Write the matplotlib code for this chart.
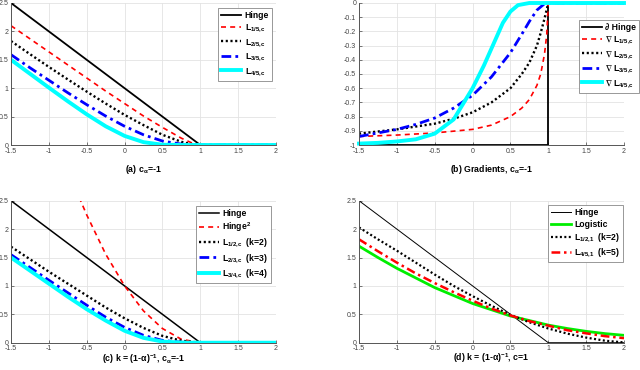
import matplotlib
matplotlib.use("Agg")
import matplotlib.pyplot as plt

plt.rcParams['font.family'] = ['Liberation Sans', 'DejaVu Sans']
plt.rcParams['font.weight'] = 'bold'
plt.rcParams['mathtext.fontset'] = 'custom'
plt.rcParams['mathtext.rm'] = 'Liberation Sans:bold'
plt.rcParams['mathtext.it'] = 'Liberation Sans:bold'
plt.rcParams['mathtext.bf'] = 'Liberation Sans:bold'
plt.rcParams['mathtext.sf'] = 'Liberation Sans:bold'
plt.rcParams['mathtext.default'] = 'rm'
plt.rcParams['mathtext.fallback'] = 'stixsans'

# shared x ticks
x_ticks = [-1.5, -1, -0.5, 0, 0.5, 1, 1.5, 2]
x_tick_labels = ['-1.5', '-1', '-0.5', '0', '0.5', '1', '1.5', '2']
y_ticks = [0, 0.5, 1, 1.5, 2, 2.5]
y_tick_labels = ['0', '0.5', '1', '1.5', '2', '2.5']
yb_ticks = [-1, -0.9, -0.8, -0.7, -0.6, -0.5, -0.4, -0.3, -0.2, -0.1, 0]
yb_tick_labels = ['-1', '-0.9', '-0.8', '-0.7', '-0.6', '-0.5', '-0.4', '-0.3', '-0.2', '-0.1', '0']

# (a) losses, c_alpha = -1
hinge_x = [-1.5, 1, 2]
hinge_y = [2.5, 0, 0]
xa = [-1.5, -1.25, -1, -0.75, -0.5, -0.25, 0, 0.25, 0.5, 0.75, 0.9, 1, 2]
a_l15 = [2.10, 1.87, 1.64, 1.41, 1.18, 0.95, 0.73, 0.51, 0.31, 0.12, 0.03, 0, 0]
a_l25 = [1.83, 1.60, 1.375, 1.155, 0.94, 0.73, 0.53, 0.35, 0.18, 0.056, 0.01, 0, 0]
a_l35 = [1.59, 1.36, 1.14, 0.92, 0.71, 0.51, 0.33, 0.18, 0.07, 0.015, 0.002, 0, 0]
a_l45 = [1.50, 1.255, 1.01, 0.77, 0.54, 0.33, 0.16, 0.05, 0.005, 0, 0, 0, 0]

# (b) gradients, c_alpha = -1
dhinge_x = [-1.5, 1, 1, 2]
dhinge_y = [-1, -1, 0, 0]
b_l15_x = [-1.5, -1, -0.5, 0, 0.25, 0.5, 0.65, 0.75, 0.85, 0.9, 0.95, 0.98, 1, 2]
b_l15_y = [-0.94, -0.93, -0.915, -0.89, -0.86, -0.80, -0.74, -0.68, -0.58, -0.50, -0.36, -0.22, 0, 0]
b_l25_x = [-1.5, -1, -0.5, -0.25, 0, 0.25, 0.5, 0.65, 0.75, 0.85, 0.9, 0.95, 1, 2]
b_l25_y = [-0.92, -0.89, -0.85, -0.815, -0.77, -0.70, -0.60, -0.50, -0.42, -0.30, -0.21, -0.11, 0, 0]
b_l35_x = [-1.5, -1.25, -1, -0.75, -0.5, -0.25, 0, 0.25, 0.5, 0.65, 0.75, 0.85, 0.95, 1, 2]
b_l35_y = [-0.94, -0.915, -0.89, -0.855, -0.81, -0.74, -0.65, -0.52, -0.35, -0.22, -0.13, -0.05, -0.005, 0, 0]
b_l45_x = [-1.5, -1.25, -1, -0.75, -0.5, -0.25, 0, 0.15, 0.25, 0.4, 0.5, 0.6, 0.75, 2]
b_l45_y = [-0.99, -0.985, -0.975, -0.96, -0.92, -0.82, -0.60, -0.44, -0.32, -0.14, -0.06, -0.015, 0, 0]

# (c) k = (1-alpha)^-1, c_alpha = -1
hsq_x = [-0.6, -0.5, -0.25, 0, 0.25, 0.5, 0.75, 1, 2]
hsq_y = [2.56, 2.25, 1.56, 1.0, 0.56, 0.25, 0.06, 0, 0]
xc = [-1.5, -1.25, -1, -0.75, -0.5, -0.25, 0, 0.25, 0.5, 0.75, 1, 2]
c_k2 = [1.69, 1.47, 1.25, 1.04, 0.83, 0.62, 0.43, 0.26, 0.12, 0.035, 0, 0]
c_k3 = [1.55, 1.325, 1.10, 0.88, 0.66, 0.45, 0.27, 0.13, 0.04, 0.008, 0, 0]
c_k4 = [1.50, 1.27, 1.04, 0.81, 0.59, 0.39, 0.21, 0.085, 0.02, 0.002, 0, 0]

# (d) k = (1-alpha)^-1, c = 1
xd = [-1.5, -1.25, -1, -0.75, -0.5, -0.25, 0, 0.25, 0.5, 0.75, 1, 1.25, 1.5, 1.75, 2]
d_logistic = [1.70, 1.50, 1.31, 1.14, 0.97, 0.83, 0.69, 0.58, 0.47, 0.39, 0.31, 0.25, 0.20, 0.16, 0.13]
d_k2 = [2.03, 1.82, 1.62, 1.41, 1.20, 1.00, 0.82, 0.65, 0.49, 0.36, 0.25, 0.16, 0.09, 0.035, 0.005]
d_k5 = [1.82, 1.61, 1.41, 1.22, 1.05, 0.89, 0.74, 0.60, 0.48, 0.38, 0.30, 0.22, 0.165, 0.115, 0.08]

DASH = (0, (3, 2.5))
DOT = (0, (0.9, 1.1))
DASHDOT = (0, (3.5, 1.5, 1, 1.5))

fig = plt.figure(figsize=(6.4, 3.7), dpi=100)
W, H = 640.0, 370.0


def make_ax(left, top, right, bottom):
    return fig.add_axes([left / W, 1 - bottom / H, (right - left) / W, (bottom - top) / H])


def style(ax, yt, ytl, ylim):
    ax.set_xlim(-1.5, 2)
    ax.set_ylim(*ylim)
    ax.set_xticks(x_ticks)
    ax.set_xticklabels(x_tick_labels)
    ax.set_yticks(yt)
    ax.set_yticklabels(ytl)
    ax.tick_params(direction='in', length=2, width=0.5, labelsize=5, pad=2,
                   colors='#444444')
    for lab in ax.get_xticklabels() + ax.get_yticklabels():
        lab.set_fontweight('normal')
    ax.grid(True, color='#e3e3e3', linewidth=0.6)
    ax.set_axisbelow(True)
    for s in ['top', 'right']:
        ax.spines[s].set_visible(False)
    for s in ['left', 'bottom']:
        ax.spines[s].set_color('#555555')
        ax.spines[s].set_linewidth(0.7)


def legend(ax, right, top):
    leg = ax.legend(loc='upper right', bbox_to_anchor=(right / W, 1 - top / H),
                    bbox_transform=fig.transFigure, fontsize=6.2, fancybox=False,
                    framealpha=1, edgecolor='#888888', borderpad=0.35,
                    handlelength=2.3, handletextpad=0.4, labelspacing=0.3,
                    borderaxespad=0)
    leg.get_frame().set_linewidth(0.6)


# panel a
ax = make_ax(11, 3, 276, 145)
style(ax, y_ticks, y_tick_labels, (0, 2.5))
ax.plot(hinge_x, hinge_y, color='black', lw=1.3, label='Hinge')
ax.plot(xa, a_l15, color='red', lw=1.2, ls=DASH, label='L$_{1/5{,}c}$')
ax.plot(xa, a_l25, color='black', lw=1.7, ls=DOT, label='L$_{2/5{,}c}$')
ax.plot(xa, a_l35, color='blue', lw=2.0, ls=DASHDOT, label='L$_{3/5{,}c}$')
ax.plot(xa, a_l45, color='cyan', lw=2.8, label='L$_{4/5{,}c}$')
legend(ax, 272, 8)
fig.text(143 / W, 1 - 170 / H, r'(a) c$_\alpha$=-1', ha='center', va='center', fontsize=6.3,
         fontweight='bold')

# panel b
ax = make_ax(359, 3, 624, 145)
style(ax, yb_ticks, yb_tick_labels, (-1, 0))
ax.plot(dhinge_x, dhinge_y, color='black', lw=1.3, label='∂ Hinge')
ax.plot(b_l15_x, b_l15_y, color='red', lw=1.2, ls=DASH, label=r'$\nabla$ L$_{1/5{,}c}$')
ax.plot(b_l25_x, b_l25_y, color='black', lw=1.7, ls=DOT, label=r'$\nabla$ L$_{2/5{,}c}$')
ax.plot(b_l35_x, b_l35_y, color='blue', lw=2.0, ls=DASHDOT, label=r'$\nabla$ L$_{3/5{,}c}$')
ax.plot(b_l45_x, b_l45_y, color='cyan', lw=2.8, label=r'$\nabla$ L$_{4/5{,}c}$', clip_on=False)
legend(ax, 639, 20)
fig.text(491 / W, 1 - 170 / H, r'(b) Gradients, c$_\alpha$=-1', ha='center', va='center',
         fontsize=6.3, fontweight='bold')

# panel c
ax = make_ax(11, 200.7, 276, 342.7)
style(ax, y_ticks, y_tick_labels, (0, 2.5))
ax.plot(hinge_x, hinge_y, color='black', lw=1.1, label='Hinge')
ax.plot(hsq_x, hsq_y, color='red', lw=1.2, ls=DASH, label='Hinge$^2$')
ax.plot(xc, c_k2, color='black', lw=1.7, ls=DOT, label='L$_{1/2{,}c}$  (k=2)')
ax.plot(xc, c_k3, color='blue', lw=2.0, ls=DASHDOT, label='L$_{2/3{,}c}$  (k=3)')
ax.plot(xc, c_k4, color='cyan', lw=2.8, label='L$_{3/4{,}c}$  (k=4)')
legend(ax, 271, 205.7)
fig.text(143 / W, 1 - 359 / H, r'(c) k = (1-$\alpha$)$^{-1}$, c$_\alpha$=-1', ha='center',
         va='center', fontsize=6.3, fontweight='bold')

# panel d
ax = make_ax(359, 200.7, 624, 342.7)
style(ax, y_ticks, y_tick_labels, (0, 2.5))
ax.plot(hinge_x, hinge_y, color='black', lw=0.7, label='Hinge')
ax.plot(xd, d_logistic, color='#00ee00', lw=2.0, label='Logistic')
ax.plot(xd, d_k2, color='black', lw=1.6, ls=DOT, label='L$_{1/2{,}1}$  (k=2)')
ax.plot(xd, d_k5, color='red', lw=1.8, ls=DASHDOT, label='L$_{4/5{,}1}$  (k=5)')
legend(ax, 623, 205)
fig.text(491 / W, 1 - 358 / H, r'(d) k = (1-$\alpha$)$^{-1}$, c=1', ha='center', va='center',
         fontsize=6.3, fontweight='bold')

fig.savefig('out.png', dpi=100)
